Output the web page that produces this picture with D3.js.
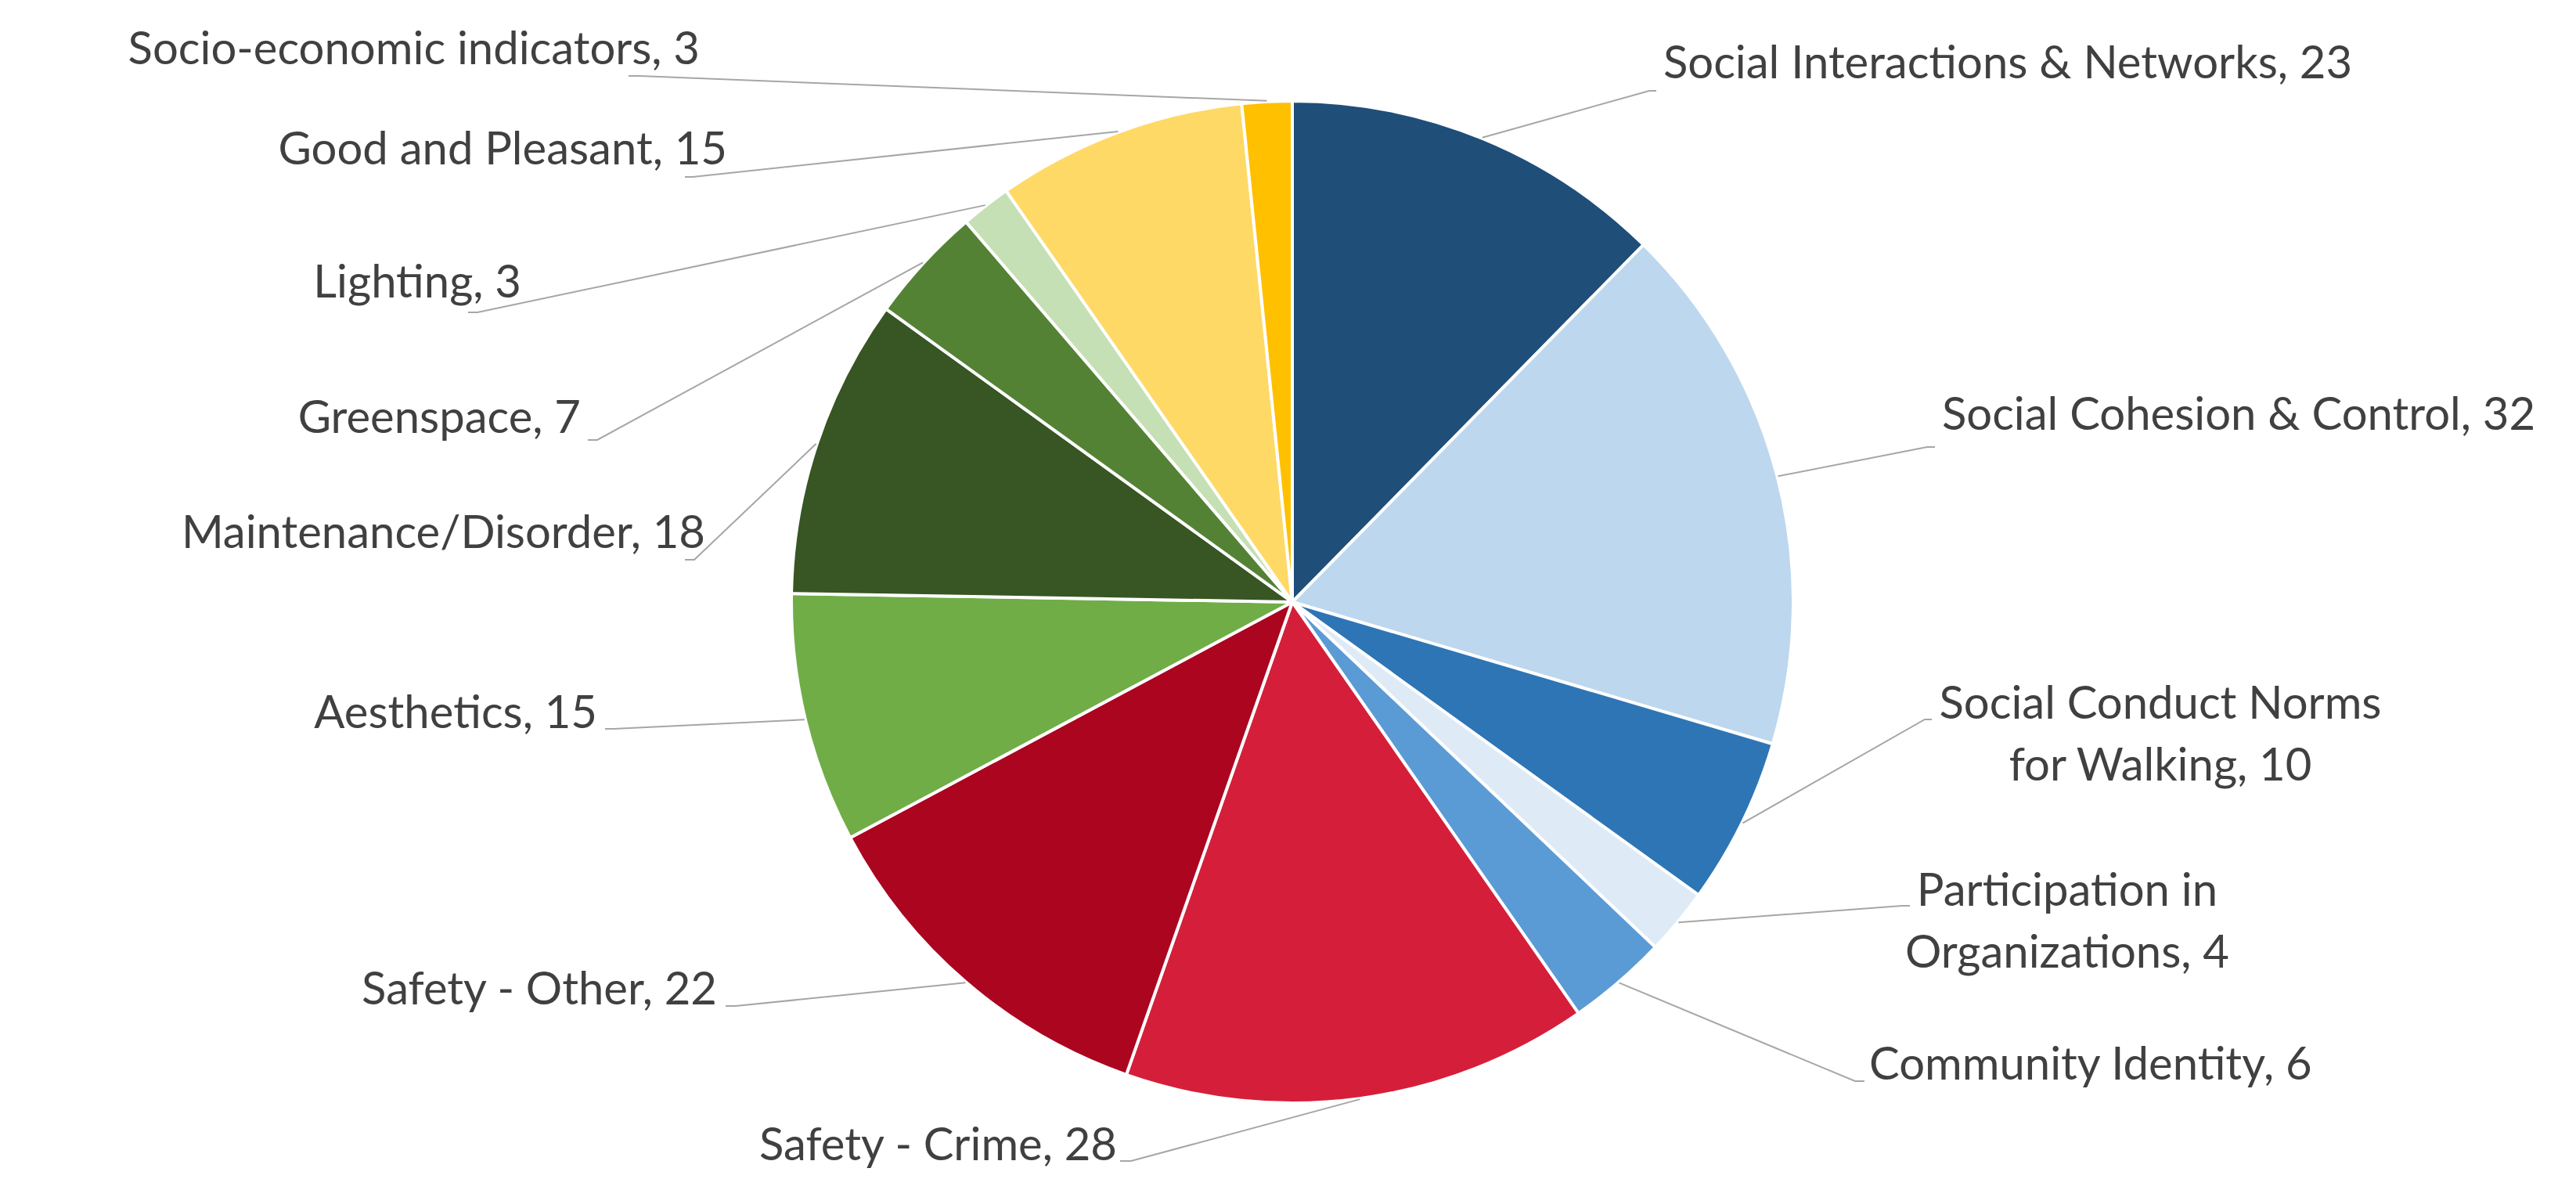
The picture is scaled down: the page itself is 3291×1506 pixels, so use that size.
<!DOCTYPE html>
<html>
<head>
<meta charset="utf-8">
<script src="https://cdn.jsdelivr.net/npm/d3@7"></script>
<style>
  html, body { margin: 0; padding: 0; background: #fff; }
  svg { display: block; }
</style>
</head>
<body>
<div id="chart"></div>
<script>
const categories = [
  "Social Interactions & Networks",
  "Social Cohesion & Control",
  "Social Conduct Norms for Walking",
  "Participation in Organizations",
  "Community Identity",
  "Safety - Crime",
  "Safety - Other",
  "Aesthetics",
  "Maintenance/Disorder",
  "Greenspace",
  "Lighting",
  "Good and Pleasant",
  "Socio-economic indicators"
]
const counts = [23, 32, 10, 4, 6, 28, 22, 15, 18, 7, 3, 15, 3]
const sliceColors = [
  "#1F4E79", "#BDD7EE", "#2E75B6", "#DEEBF7", "#5B9BD5",
  "#D51F3A", "#AB0520", "#70AD47", "#375623", "#548235",
  "#C5E0B4", "#FFD966", "#FFC000"
]

// where each data label sits (text anchor + leader elbow), same order as categories
const labelLayout = [
  { x: 2125, y: 100, anchor: "start", ex: 2107, ey: 116, stub: 9 },
  { x: 2481, y: 549, anchor: "start", ex: 2462, ey: 571, stub: 10 },
  { x: 2760, y: 918, anchor: "middle", ex: 2459, ey: 919, stub: 9, wrap: 3 },
  { x: 2641, y: 1157, anchor: "middle", ex: 2430, ey: 1157, stub: 10, wrap: 2 },
  { x: 2388, y: 1379, anchor: "start", ex: 2370, ey: 1381, stub: 12 },
  { x: 1427, y: 1482, anchor: "end", ex: 1445, ey: 1483, stub: -14 },
  { x: 916, y: 1283, anchor: "end", ex: 940, ey: 1285, stub: -13 },
  { x: 763, y: 930, anchor: "end", ex: 784, ey: 931, stub: -11 },
  { x: 901, y: 700, anchor: "end", ex: 887, ey: 715, stub: -12 },
  { x: 742, y: 553, anchor: "end", ex: 763, ey: 562, stub: -12 },
  { x: 666, y: 380, anchor: "end", ex: 610, ey: 399, stub: -12 },
  { x: 929, y: 210, anchor: "end", ex: 885, ey: 226, stub: -10 },
  { x: 894, y: 82, anchor: "end", ex: 817, ey: 97, stub: -14 }
]

const width = 3291
const height = 1506
const cx = 1651
const cy = 769
const radius = 640
const fontSize = 58
const lineGap = 79

const svg = d3.select("#chart")
  .append("svg")
  .attr("width", width)
  .attr("height", height)

const pie = d3.pie().sort(null).value(d => d)
const arcs = pie(counts)

const arc = d3.arc().innerRadius(0).outerRadius(radius)
const edge = d3.arc().innerRadius(radius + 1).outerRadius(radius + 1)

const g = svg.append("g").attr("transform", `translate(${cx}, ${cy})`)

g.selectAll("path.slice")
  .data(arcs)
  .enter()
  .append("path")
  .attr("class", "slice")
  .attr("d", arc)
  .style("fill", (d, i) => sliceColors[i])
  .style("stroke", "#fff")
  .style("stroke-width", 4)
  .style("stroke-linejoin", "round")

// leader lines: slice edge -> elbow -> short horizontal stub
g.selectAll("path.leader")
  .data(arcs)
  .enter()
  .append("path")
  .attr("class", "leader")
  .attr("d", (d, i) => {
    const p = edge.centroid(d)
    const l = labelLayout[i]
    return d3.line()([
      p,
      [l.ex - cx, l.ey - cy],
      [l.ex + l.stub - cx, l.ey - cy]
    ])
  })
  .style("fill", "none")
  .style("stroke", "#A6A6A6")
  .style("stroke-width", 2)

const labels = svg.selectAll("text.label")
  .data(arcs)
  .enter()
  .append("text")
  .attr("class", "label")
  .attr("text-anchor", (d, i) => labelLayout[i].anchor)
  .style("font-family", "Lato, 'Open Sans', sans-serif")
  .style("font-size", fontSize + "px")
  .style("fill", "#404040")

labels.each(function (d, i) {
  const l = labelLayout[i]
  const full = categories[i] + ", " + counts[i]
  let lines = [full]
  if (l.wrap) {
    const words = full.split(" ")
    lines = [words.slice(0, l.wrap).join(" "), words.slice(l.wrap).join(" ")]
  }
  d3.select(this).selectAll("tspan")
    .data(lines)
    .enter()
    .append("tspan")
    .attr("x", l.x)
    .attr("y", (t, k) => l.y + k * lineGap)
    .text(t => t)
})
</script>
</body>
</html>
